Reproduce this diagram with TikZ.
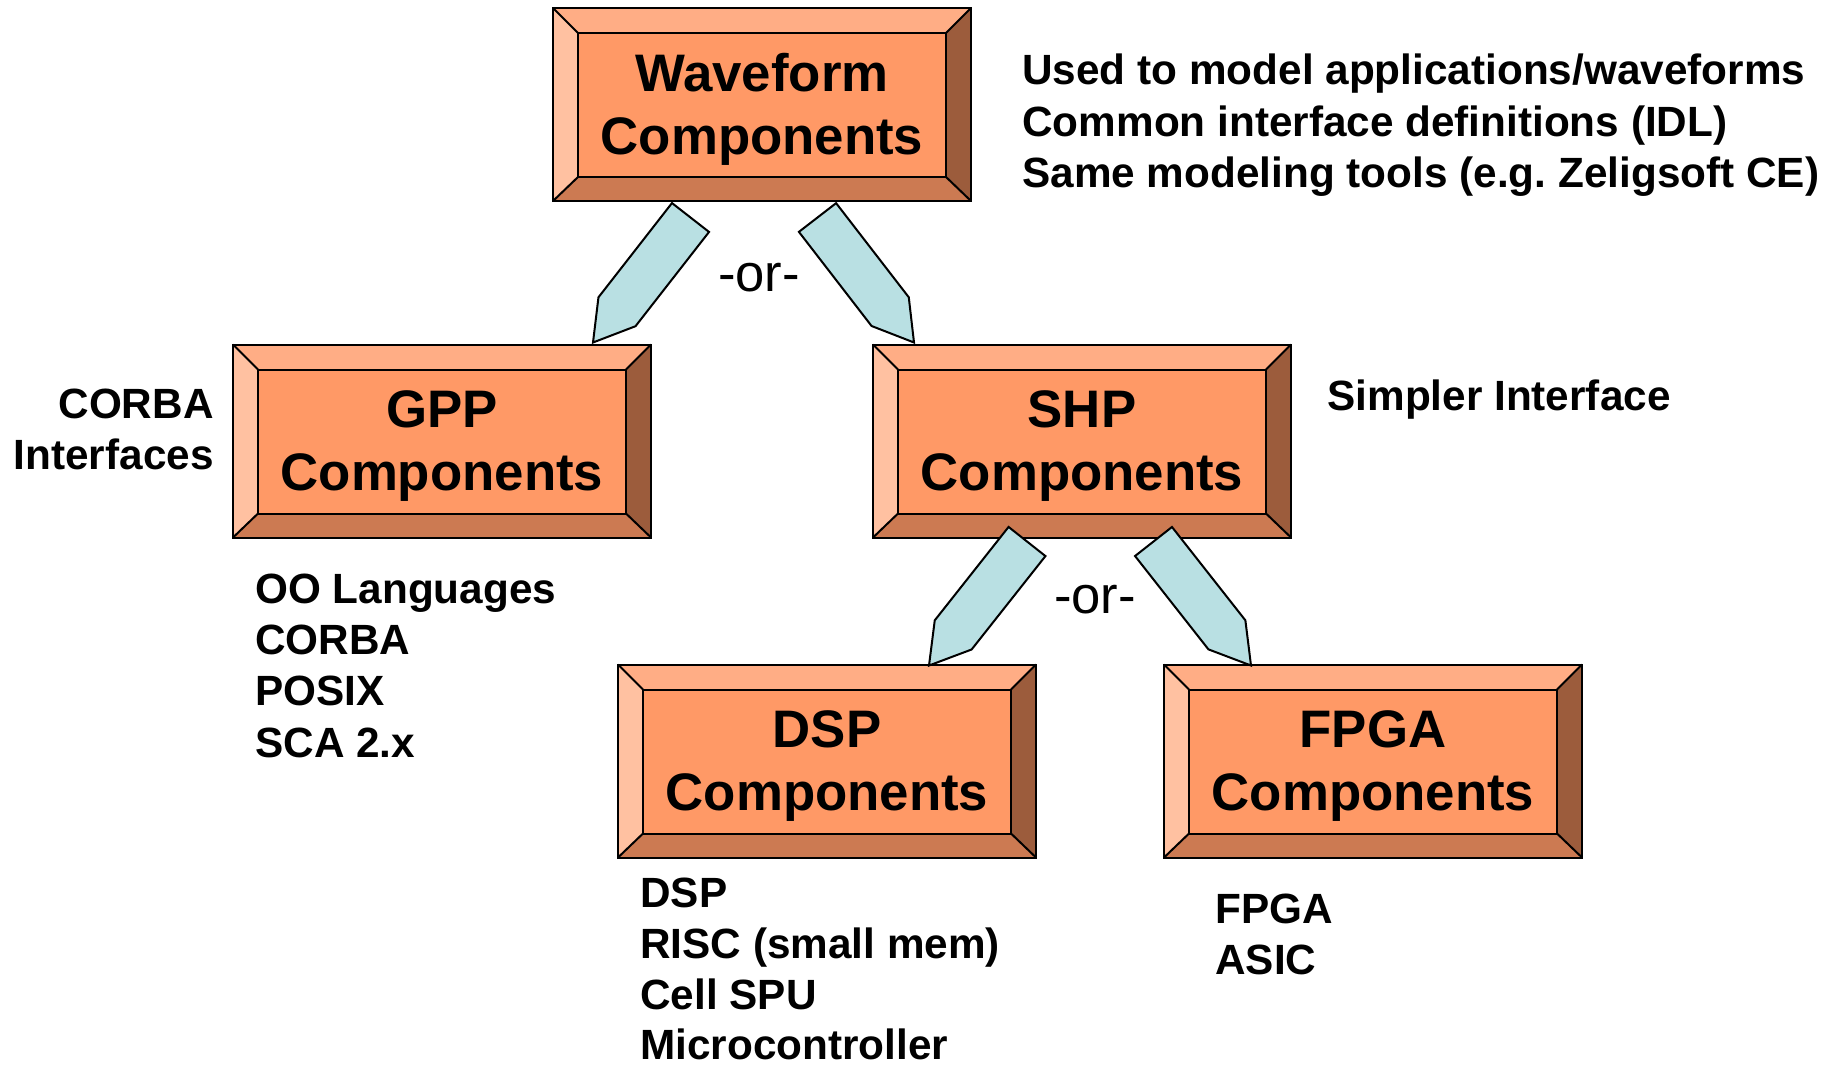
\documentclass[tikz,border=0pt]{standalone}
\usepackage{fontspec}
\setmainfont{Liberation Sans}
\usetikzlibrary{calc}
\frenchspacing

\definecolor{face}{HTML}{FF9966}
\definecolor{bevtop}{HTML}{FFAD85}
\definecolor{bevleft}{HTML}{FFC1A1}
\definecolor{bevright}{HTML}{9C5C3C}
\definecolor{bevbot}{HTML}{CC7A52}
\definecolor{arrowfill}{HTML}{B9E0E3}

\tikzset{
  compbox/.style={fill=face, minimum width=209pt, minimum height=96.5pt, inner sep=0pt, outer sep=0pt},
  boxlabel/.style={font=\fontsize{26.4}{31.5}\selectfont\bfseries, align=center, inner sep=0pt},
  note/.style={font=\fontsize{21.15}{25.5}\selectfont\bfseries, inner sep=0pt},
  ortext/.style={font=\fontsize{26.3}{31}\selectfont, inner sep=0pt},
  edgeline/.style={line width=1pt, line join=miter},
  blockarrow/.style={fill=arrowfill, draw=black, line width=1pt, line join=miter}
}

% bevelled component box: name, centre, first text line
\newcommand\bevelbox[3]{%
  \node[compbox] (#1) at (#2) {};
  \fill[bevtop] (#1.north west) -- (#1.north east) -- ([shift={(-25,25)}]#1.north east) -- ([shift={(25,25)}]#1.north west) -- cycle;
  \fill[bevright] (#1.north east) -- (#1.south east) -- ([shift={(-25,-24)}]#1.south east) -- ([shift={(-25,25)}]#1.north east) -- cycle;
  \fill[bevbot] (#1.south east) -- (#1.south west) -- ([shift={(25,-24)}]#1.south west) -- ([shift={(-25,-24)}]#1.south east) -- cycle;
  \fill[bevleft] (#1.south west) -- (#1.north west) -- ([shift={(25,25)}]#1.north west) -- ([shift={(25,-24)}]#1.south west) -- cycle;
  \draw[edgeline] ([shift={(25,25)}]#1.north west) rectangle ([shift={(-25,-24)}]#1.south east);
  \draw[edgeline] (#1.north west) -- ([shift={(25,25)}]#1.north west)
                  (#1.north east) -- ([shift={(-25,25)}]#1.north east)
                  (#1.south east) -- ([shift={(-25,-24)}]#1.south east)
                  (#1.south west) -- ([shift={(25,-24)}]#1.south west);
  \draw[edgeline] (#1.north west) rectangle (#1.south east);
  \node[boxlabel] (#1t) at ([yshift=-2.6pt]#1.center) {#3\\Components};
}

% pentagon block arrow: name, tail middle, tip
\newcommand\blockarr[3]{%
  \coordinate (#1a) at (#2);
  \coordinate (#1b) at (#3);
  \coordinate (#1s) at ($(#1b)!19.5pt!(#1a)$);
  \draw[blockarrow] ($(#1a)!11.75pt!90:(#1b)$) -- ($(#1s)!11.75pt!-90:(#1a)$) -- (#1b)
        -- ($(#1s)!11.75pt!90:(#1a)$) -- ($(#1a)!11.75pt!-90:(#1b)$) -- cycle;
}

\begin{document}
\begin{tikzpicture}[x=0.5pt, y=-0.5pt]
\useasboundingbox (0,0) rectangle (1845,1065);

% component boxes
\bevelbox{wf}{762,104.5}{Waveform}
\bevelbox{gpp}{442,441}{GPP}
\bevelbox{shp}{1082,441}{SHP}
\bevelbox{dsp}{827,761}{DSP}
\bevelbox{fpga}{1373,761}{FPGA}

% refinement arrows
\blockarr{a1}{[shift={(-71.5,16.5)}]wf.south}{[shift={(151,-2)}]gpp.north}
\blockarr{a2}{[shift={(55.5,16.5)}]wf.south}{[shift={(-168,-2)}]shp.north}
\blockarr{a3}{[shift={(-55,4)}]shp.south}{[shift={(102,1)}]dsp.north}
\blockarr{a4}{[shift={(71.5,4)}]shp.south}{[shift={(-122,1)}]fpga.north}

\node[ortext] (or1) at (759,278) {-or-};
\node[ortext] (or2) at (1095,600) {-or-};

% annotations
\node[note, anchor=base west] (n1) at (1022,85) {Used to model applications/waveforms};
\node[note, anchor=base west] (n2) at (1022,136) {Common interface definitions (IDL)};
\node[note, anchor=base west] (n3) at (1022,187) {Same modeling tools (e.g. Zeligsoft CE)};

\node[note, anchor=base west] (s1) at (1327,410) {Simpler Interface};

\node[note, anchor=base east] (c1) at (214,418) {CORBA};
\node[note, anchor=base east] (c2) at (214,469) {Interfaces};

\node[note, anchor=base west] (g1) at (255,603) {OO Languages};
\node[note, anchor=base west] (g2) at (255,654) {CORBA};
\node[note, anchor=base west] (g3) at (255,705) {POSIX};
\node[note, anchor=base west] (g4) at (255,757) {SCA 2.x};

\node[note, anchor=base west] (d1) at (640,907) {DSP};
\node[note, anchor=base west] (d2) at (640,958) {RISC (small mem)};
\node[note, anchor=base west] (d3) at (640,1009) {Cell SPU};
\node[note, anchor=base west] (d4) at (640,1059) {Microcontroller};

\node[note, anchor=base west] (f1) at (1215,923) {FPGA};
\node[note, anchor=base west] (f2) at (1215,974) {ASIC};
\end{tikzpicture}
\end{document}
